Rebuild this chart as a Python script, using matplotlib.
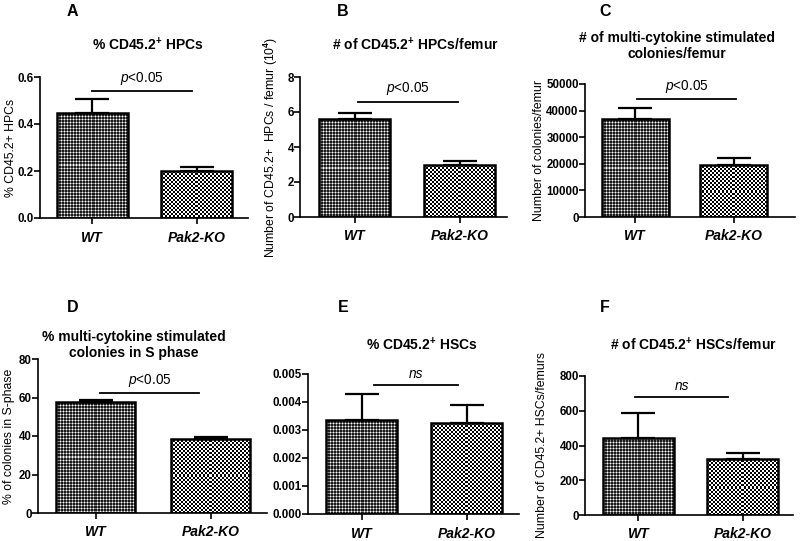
import numpy as np
import matplotlib
matplotlib.use("Agg")
import matplotlib.pyplot as plt

plt.rcParams['font.family'] = ['Liberation Sans', 'DejaVu Sans']
plt.rcParams['font.weight'] = 'bold'
plt.rcParams['mathtext.fontset'] = 'custom'
plt.rcParams['mathtext.rm'] = 'Liberation Sans:bold'
plt.rcParams['mathtext.bf'] = 'Liberation Sans:bold'
plt.rcParams['mathtext.it'] = 'Liberation Sans:style=italic:weight=normal'

# data
groups = ['WT', 'Pak2-KO']
panel_letters = ['A', 'B', 'C', 'D', 'E', 'F']
titles = ['% CD45.2$^{+}$ HPCs',
          '# of CD45.2$^{+}$ HPCs/femur',
          '# of multi-cytokine stimulated\ncolonies/femur',
          '% multi-cytokine stimulated\ncolonies in S phase',
          '% CD45.2$^{+}$ HSCs',
          '# of CD45.2$^{+}$ HSCs/femur']
ylabels = ['% CD45.2+ HPCs',
           'Number of CD45.2+  HPCs / femur (10$^{4}$)',
           'Number of colonies/femur',
           '% of colonies in S-phase',
           '',
           'Number of CD45.2+ HSCs/femurs']
wt_mean = [0.447, 5.62, 37000, 57.9, 0.00336, 443]
wt_sem = [0.059, 0.31, 3900, 0.8, 0.00092, 146]
ko_mean = [0.198, 2.97, 19700, 38.6, 0.00325, 325]
ko_sem = [0.017, 0.23, 2400, 0.9, 0.00066, 33]
sig_level = [0.54, 6.6, 44250, 62.5, 0.0046, 681]
sig_text = ['$p$<0.05', '$p$<0.05', '$p$<0.05', '$p$<0.05', 'ns', 'ns']
y_max = [0.6, 8, 50000, 80, 0.005, 800]
y_step = [0.2, 2, 10000, 20, 0.001, 200]
y_fmt = ['%.1f', '%d', '%d', '%d', '%.3f', '%d']

W, H = 800, 541
# axes boxes in pixels: left, top, right, bottom
boxes = [(40, 77, 248, 218), (300, 77, 507, 217), (585, 84, 795, 217),
         (38, 359, 267, 513), (308, 374, 519, 514), (585, 376, 793, 515)]
xlims = [(-0.5, 1.49), (-0.52, 1.45), (-0.51, 1.62),
         (-0.5, 1.49), (-0.51, 1.5), (-0.51, 1.48)]
sig_span = [(0.0, 0.95), (0.03, 0.98), (0.02, 1.02),
            (0.04, 0.9), (0.12, 0.92), (-0.03, 0.86)]
letter_pos = [(72, 12), (343, 12), (605, 12), (73, 307), (343, 307), (605, 307)]
title_pos = [(148, 45), (415, 45), (677, 46), (134, 345), (422, 345), (693, 345)]
ylabel_x = [12, 275, 540, 10, None, 543]

# small tiles for the two fill patterns
tile_wt = np.array([[0.1, 0.5, 0.1],
                    [0.5, 1.0, 0.5],
                    [0.1, 0.5, 0.1]])
tile_ko = np.array([[0.0, 0.0, 1.0, 1.0],
                    [0.0, 0.0, 1.0, 1.0],
                    [1.0, 1.0, 0.0, 0.0],
                    [1.0, 1.0, 0.0, 0.0]])

fig = plt.figure(figsize=(W / 100, H / 100), dpi=100)

axes = []
bars_all = []
for i in range(6):
    l, t, r, b = boxes[i]
    ax = fig.add_axes([l / W, 1 - b / H, (r - l) / W, (b - t) / H])
    x = np.arange(2)
    bars = ax.bar(x, [wt_mean[i], ko_mean[i]], width=0.68, facecolor='none',
                  edgecolor='black', linewidth=1.8, zorder=3)
    ax.errorbar(x, [wt_mean[i], ko_mean[i]],
                yerr=[[0, 0], [wt_sem[i], ko_sem[i]]],
                fmt='none', ecolor='black', elinewidth=1.6, capsize=12,
                capthick=1.6, zorder=2)
    x0, x1 = sig_span[i]
    ax.plot([x0, x1], [sig_level[i]] * 2, color='black', lw=1.3)
    txt_style = 'italic' if sig_text[i] == 'ns' else 'normal'
    ax.annotate(sig_text[i], ((x0 + x1) / 2, sig_level[i]), xytext=(0, 3),
                textcoords='offset points', ha='center', va='bottom',
                fontsize=9.8, fontweight='normal', style=txt_style)

    ax.set_xlim(*xlims[i])
    ax.set_ylim(0, y_max[i])
    ax.set_xticks(x)
    ax.set_xticklabels(groups, fontsize=10, style='italic', fontweight='bold')
    ticks = np.linspace(0, y_max[i], int(round(y_max[i] / y_step[i])) + 1)
    ax.set_yticks(ticks)
    ax.set_yticklabels([y_fmt[i] % v for v in ticks], fontsize=8.3)
    ax.tick_params(axis='both', direction='out', length=4, width=1.2)
    ax.tick_params(axis='x', pad=5)
    ax.tick_params(axis='y', pad=0.5)
    for side in ['top', 'right']:
        ax.spines[side].set_visible(False)
    for side in ['left', 'bottom']:
        ax.spines[side].set_linewidth(1.2)

    if ylabels[i]:
        ax.set_ylabel(ylabels[i], fontsize=8.8)
        ax.yaxis.set_label_coords((ylabel_x[i] + 5 - l) / (r - l), 0.5)

    lx, ly = letter_pos[i]
    fig.text(lx / W, 1 - ly / H, panel_letters[i], fontsize=11.5,
             ha='center', va='center')
    tx, ty = title_pos[i]
    fig.text(tx / W, 1 - ty / H, titles[i], fontsize=10, ha='center',
             va='center', linespacing=1.1)
    axes.append(ax)
    bars_all.append(bars)

# fill bars with checker patterns clipped to each bar
fig.canvas.draw()
renderer = fig.canvas.get_renderer()
for ax, bars in zip(axes, bars_all):
    for patch, tile in zip(bars.patches, [tile_wt, tile_ko]):
        bb = patch.get_window_extent(renderer)
        nx, ny = max(int(round(bb.width)), 1), max(int(round(bb.height)), 1)
        th, tw = tile.shape
        arr = np.tile(tile, (ny // th + 1, nx // tw + 1))[:ny, :nx]
        xb = patch.get_x()
        im = ax.imshow(arr, extent=[xb, xb + patch.get_width(), 0, patch.get_height()],
                       cmap='gray', vmin=0, vmax=1, interpolation='nearest',
                       aspect='auto', zorder=1.5)
        im.set_clip_path(patch)

fig.savefig('out.png', dpi=100)
